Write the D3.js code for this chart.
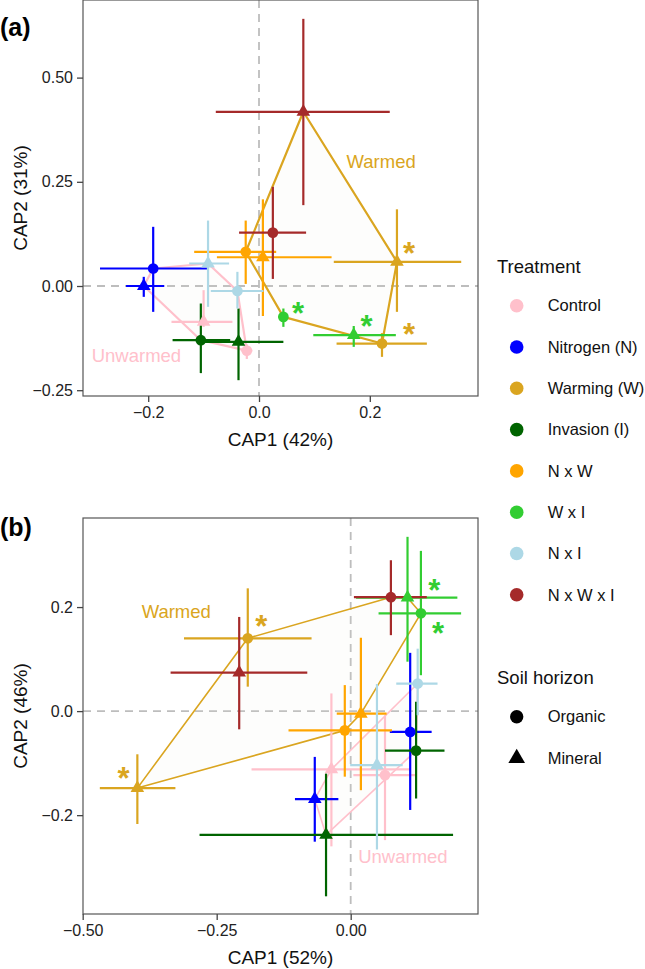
<!DOCTYPE html>
<html><head><meta charset="utf-8">
<script src="https://cdn.jsdelivr.net/npm/d3@7"></script>
<style>body{margin:0;background:#fff}svg{display:block;font-family:"Liberation Sans",Arial,Helvetica,sans-serif}</style>
</head><body><svg id="c" width="645" height="969"></svg>
<script>
// ---------------- DATA ----------------
const treatments = ["Control","Nitrogen (N)","Warming (W)","Invasion (I)","N x W","W x I","N x I","N x W x I"];
const treatmentColors = ["#FFC0CB","#0000FF","#DAA520","#006400","#FFA500","#32CD32","#ADD8E6","#A52A2A"];
const horizons = ["Organic","Mineral"];
const warmedTreatments = ["Warming (W)","N x W","W x I","N x W x I"];
const unwarmedTreatments = ["Control","Nitrogen (N)","Invasion (I)","N x I"];
// each point: treatment index & horizon index
const pointTreatment = [0,0,1,1,2,2,3,3,4,4,5,5,6,6,7,7];
const pointHorizon   = [0,1,0,1,0,1,0,1,0,1,0,1,0,1,0,1];

// Panel (a)
const aCap1   = [-0.022,-0.100,-0.191,-0.208, 0.222, 0.249,-0.105,-0.037,-0.024, 0.007, 0.044, 0.171,-0.039,-0.092, 0.025, 0.080];
const aCap2   = [-0.155,-0.086, 0.042, 0.000,-0.138, 0.058,-0.130,-0.134, 0.082, 0.069,-0.074,-0.118,-0.012, 0.054, 0.128, 0.418];
const aCap1Lo = [-0.032,-0.158,-0.287,-0.240, 0.140, 0.135,-0.156,-0.100,-0.117,-0.076, 0.035, 0.098,-0.087,-0.126,-0.036,-0.078];
const aCap1Hi = [-0.012,-0.048,-0.094,-0.171, 0.303, 0.365,-0.052, 0.044, 0.031, 0.131, 0.052, 0.247, 0.008,-0.054, 0.085, 0.236];
const aCap2Lo = [-0.175,-0.098,-0.062,-0.026,-0.170,-0.062,-0.209,-0.226, 0.005,-0.072,-0.098,-0.146,-0.054,-0.050, 0.017, 0.194];
const aCap2Hi = [-0.140,-0.010, 0.142, 0.022,-0.113, 0.184,-0.042,-0.054, 0.157, 0.208,-0.054,-0.096, 0.034, 0.157, 0.238, 0.641];
const aStarX  = [0.0704, 0.194, 0.271, 0.271];
const aStarY  = [-0.050,-0.082,-0.100, 0.093];
const aStarTreatment = [5,5,2,2];
const aXTicks = [-0.2,0,0.2];
const aXTickLabels = ["\u22120.2","0.0","0.2"];
const aYTicks = [-0.25,0,0.25,0.5];
const aYTickLabels = ["\u22120.25","0.00","0.25","0.50"];
const aXTitle = "CAP1 (42%)", aYTitle = "CAP2 (31%)";
const aGroupLabelX = [0.158,-0.302], aGroupLabelY = [0.298,-0.166];

// Panel (b)
const bCap1   = [ 0.064,-0.036, 0.111,-0.067,-0.192,-0.398, 0.122,-0.046,-0.011, 0.019, 0.131, 0.106, 0.125, 0.049, 0.075,-0.208];
const bCap2   = [-0.123,-0.112,-0.040,-0.169, 0.140,-0.148,-0.076,-0.238,-0.037,-0.005, 0.188, 0.218, 0.053,-0.104, 0.219, 0.074];
const bCap1Lo = [ 0.005,-0.185, 0.073,-0.104,-0.311,-0.468, 0.064,-0.282,-0.116,-0.026, 0.052, 0.010, 0.085,-0.001, 0.006,-0.336];
const bCap1Hi = [ 0.123, 0.111, 0.151,-0.023,-0.073,-0.327, 0.175, 0.191, 0.077, 0.067, 0.206, 0.199, 0.162, 0.097, 0.142,-0.081];
const bCap2Lo = [-0.248,-0.260,-0.190,-0.251, 0.047,-0.217,-0.168,-0.356,-0.126,-0.152, 0.069, 0.095,-0.008,-0.266, 0.146,-0.035];
const bCap2Hi = [-0.008, 0.034, 0.112,-0.088, 0.236,-0.083, 0.018,-0.120, 0.050, 0.141, 0.308, 0.335, 0.120, 0.052, 0.290, 0.181];
const bStarX  = [-0.167,-0.424, 0.156, 0.163];
const bStarY  = [ 0.176,-0.117, 0.245, 0.162];
const bStarTreatment = [2,2,5,5];
const bXTicks = [-0.5,-0.25,0];
const bXTickLabels = ["\u22120.50","\u22120.25","0.00"];
const bYTicks = [-0.2,0,0.2];
const bYTickLabels = ["\u22120.2","0.0","0.2"];
const bXTitle = "CAP1 (52%)", bYTitle = "CAP2 (46%)";
const bGroupLabelX = [-0.390, 0.014], bGroupLabelY = [0.192,-0.280];

const groupLabels = ["Warmed","Unwarmed"];
const groupColors = ["#DAA520","#FFC0CB"];

// ---------------- DRAW ----------------
const svg = d3.select("#c");
const color = d3.scaleOrdinal().domain(treatments).range(treatmentColors);
const shape = d3.scaleOrdinal().domain(horizons).range([d3.symbolCircle, d3.symbolTriangle]);
const shapeSize = d3.scaleOrdinal().domain(horizons).range([90, 80]);

function panel(o){
  const x = d3.scaleLinear().domain(o.xDom).range([o.left,o.right]);
  const y = d3.scaleLinear().domain(o.yDom).range([o.bottom,o.top]);
  const g = svg.append("g");
  const clipId = "clip"+o.id;
  svg.append("clipPath").attr("id",clipId).append("rect")
    .attr("x",o.left).attr("y",o.top).attr("width",o.right-o.left).attr("height",o.bottom-o.top);
  const inner = g.append("g").attr("clip-path",`url(#${clipId})`);

  // zero lines
  inner.append("line").attr("x1",x(0)).attr("x2",x(0)).attr("y1",o.top).attr("y2",o.bottom)
    .attr("stroke","#bdbdbd").attr("stroke-width",1.8).attr("stroke-dasharray","8,6");
  inner.append("line").attr("y1",y(0)).attr("y2",y(0)).attr("x1",o.left).attr("x2",o.right)
    .attr("stroke","#bdbdbd").attr("stroke-width",1.8).attr("stroke-dasharray","8,6");

  const pts = o.cap1.map((v,i)=>({
    t: treatments[pointTreatment[i]], h: horizons[pointHorizon[i]],
    x: v, y: o.cap2[i], xlo: o.xlo[i], xhi: o.xhi[i], ylo: o.ylo[i], yhi: o.yhi[i]
  }));

  // hulls
  [[unwarmedTreatments,groupColors[1]],[warmedTreatments,groupColors[0]]].forEach(([set,col])=>{
    const hull = d3.polygonHull(pts.filter(p=>set.includes(p.t)).map(p=>[x(p.x),y(p.y)]));
    inner.append("path").attr("d","M"+hull.join("L")+"Z")
      .attr("fill","#e8e4dc").attr("fill-opacity",0.09)
      .attr("stroke",col).attr("stroke-width",o.hullW).attr("stroke-linejoin","round");
  });

  // error bars
  const eb = inner.append("g").attr("stroke-width",2.2);
  pts.forEach(p=>{
    eb.append("line").attr("x1",x(p.xlo)).attr("x2",x(p.xhi)).attr("y1",y(p.y)).attr("y2",y(p.y)).attr("stroke",color(p.t));
    eb.append("line").attr("x1",x(p.x)).attr("x2",x(p.x)).attr("y1",y(p.ylo)).attr("y2",y(p.yhi)).attr("stroke",color(p.t));
  });
  // points
  inner.append("g").selectAll("path").data(pts).join("path")
    .attr("transform",p=>`translate(${x(p.x)},${y(p.y)})`)
    .attr("d",p=>d3.symbol(shape(p.h),shapeSize(p.h))())
    .attr("fill",p=>color(p.t));

  // asterisks
  o.starX.forEach((sx,i)=>{
    inner.append("text").attr("x",x(sx)).attr("y",y(o.starY[i])+17)
      .attr("text-anchor","middle").attr("font-size",31).attr("font-weight","bold")
      .attr("fill",treatmentColors[o.starT[i]]).text("*");
  });
  // group labels
  groupLabels.forEach((lab,i)=>{
    inner.append("text").attr("x",x(o.glx[i])).attr("y",y(o.gly[i])).attr("dy","0.35em")
      .attr("font-size",18.5).attr("fill",groupColors[i]).text(lab);
  });

  // frame
  g.append("rect").attr("x",o.left).attr("y",o.top).attr("width",o.right-o.left).attr("height",o.bottom-o.top)
    .attr("fill","none").attr("stroke","#555").attr("stroke-width",1.2);

  // axes
  const xa = g.append("g").attr("transform",`translate(0,${o.bottom})`)
    .call(d3.axisBottom(x).tickValues(o.xt).tickFormat((d,i)=>o.xtl[i]).tickSize(6).tickPadding(5));
  const ya = g.append("g").attr("transform",`translate(${o.left},0)`)
    .call(d3.axisLeft(y).tickValues(o.yt).tickFormat((d,i)=>o.ytl[i]).tickSize(6).tickPadding(4));
  [xa,ya].forEach(a=>{
    a.select(".domain").remove();
    a.selectAll(".tick line").attr("stroke","#444").attr("stroke-width",1.3);
    a.selectAll(".tick text").attr("font-size",16).attr("fill","#222")
      .attr("font-family",'"Liberation Sans",Arial,sans-serif');
  });
  g.append("text").attr("x",(o.left+o.right)/2).attr("y",o.bottom+43).attr("dy","0.35em")
    .attr("text-anchor","middle").attr("font-size",19).attr("fill","#111").text(o.xTitle);
  g.append("text").attr("transform",`translate(20,${(o.top+o.bottom)/2}) rotate(-90)`).attr("dy","0.35em")
    .attr("text-anchor","middle").attr("font-size",19).attr("fill","#111").text(o.yTitle);
  g.append("text").attr("x",0).attr("y",o.tagY).attr("dy","0.35em").attr("font-size",25)
    .attr("font-weight","bold").attr("fill","#000").text(o.tag);
}

panel({id:"a", tag:"(a)", tagY:27, left:83, right:478, top:0, bottom:396,
  xDom:[-0.3177,0.3953], yDom:[-0.2639,0.6862],
  cap1:aCap1, cap2:aCap2, xlo:aCap1Lo, xhi:aCap1Hi, ylo:aCap2Lo, yhi:aCap2Hi,
  starX:aStarX, starY:aStarY, starT:aStarTreatment, glx:aGroupLabelX, gly:aGroupLabelY,
  xt:aXTicks, xtl:aXTickLabels, yt:aYTicks, ytl:aYTickLabels, xTitle:aXTitle, yTitle:aYTitle, hullW:2.2});

panel({id:"b", tag:"(b)", tagY:527, left:83, right:478, top:518, bottom:914,
  xDom:[-0.4994,0.2375], yDom:[-0.3900,0.3712],
  cap1:bCap1, cap2:bCap2, xlo:bCap1Lo, xhi:bCap1Hi, ylo:bCap2Lo, yhi:bCap2Hi,
  starX:bStarX, starY:bStarY, starT:bStarTreatment, glx:bGroupLabelX, gly:bGroupLabelY,
  xt:bXTicks, xtl:bXTickLabels, yt:bYTicks, ytl:bYTickLabels, xTitle:bXTitle, yTitle:bYTitle, hullW:1.6});

// ---------------- LEGEND ----------------
const leg = svg.append("g");
leg.append("text").attr("x",497).attr("y",267).attr("dy","0.35em").attr("font-size",18.5).attr("fill","#111").text("Treatment");
treatments.forEach((t,i)=>{
  const yy = 305.7 + i*41.3;
  leg.append("circle").attr("cx",516.7).attr("cy",yy).attr("r",6.8).attr("fill",color(t));
  leg.append("text").attr("x",547.7).attr("y",yy).attr("dy","0.35em").attr("font-size",16.5).attr("fill","#111").text(t);
});
leg.append("text").attr("x",497).attr("y",677.5).attr("dy","0.35em").attr("font-size",18.5).attr("fill","#111").text("Soil horizon");
horizons.forEach((h,i)=>{
  const yy = 716.7 + i*41.6;
  leg.append("path").attr("transform",`translate(516.7,${yy})`)
    .attr("d",d3.symbol(shape(h), i===0?140:120)()).attr("fill","#000");
  leg.append("text").attr("x",547.7).attr("y",yy).attr("dy","0.35em").attr("font-size",16.5).attr("fill","#111").text(h);
});
</script></body></html>
